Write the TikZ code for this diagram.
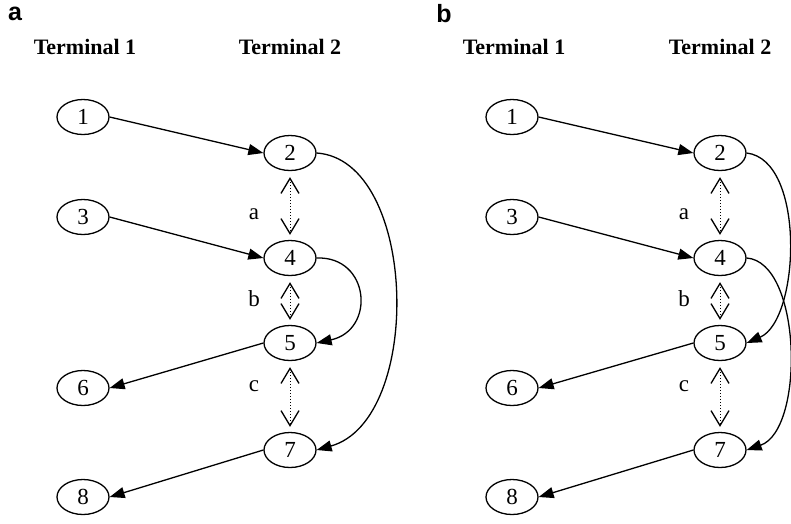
\documentclass[tikz,border=0pt]{standalone}
\usepackage{fontspec}
\setmainfont{Liberation Serif}
\setsansfont{Liberation Sans}
\usetikzlibrary{arrows.meta,shapes.geometric}
\tikzset{
  state/.style={draw, ellipse, line width=1.3pt, minimum width=52pt, minimum height=35pt,
    inner sep=0pt, font=\fontsize{23}{23}\selectfont},
  link/.style={line width=1.3pt, -{Triangle[length=15pt,width=11pt]}},
  swap/.style={line width=1pt, dotted, shorten <=6pt, shorten >=5pt,
    {Straight Barb[length=15pt,width=18pt,line width=1.3pt]}-{Straight Barb[length=15pt,width=18pt,line width=1.3pt]}},
  term/.style={font=\bfseries\fontsize{22}{22}\selectfont},
  panel/.style={font=\sffamily\bfseries\fontsize{25}{25}\selectfont},
  gap/.style={font=\fontsize{23}{23}\selectfont},
}
\begin{document}
\begin{tikzpicture}[x=1pt,y=-1pt]
\useasboundingbox (0,0) rectangle (791,523);
\fill[white] (0,0) rectangle (791,523);

% ---- panel a ----
\node[panel] (pa) at (15,14) {a};
\node[term] (ta1) at (85,47) {Terminal 1};
\node[term] (ta2) at (290,47) {Terminal 2};
\node[state] (a1) at (83,117) {1};
\node[state] (a2) at (290,153) {2};
\node[state] (a3) at (83,217) {3};
\node[state] (a4) at (290,258) {4};
\node[state] (a5) at (290,343) {5};
\node[state] (a6) at (83,388) {6};
\node[state] (a7) at (290,450) {7};
\node[state] (a8) at (83,497) {8};
\draw[link] (a1.east) -- (a2.west);
\draw[link] (a3.east) -- (a4.west);
\draw[link] (a5.west) -- (a6.east);
\draw[link] (a7.west) -- (a8.east);
\draw[link] (a2.east) .. controls (418,160) and (424,420) .. (a7.east);
\draw[link] (a4.east) .. controls (370,256) and (376,330) .. (a5.east);
\draw[swap] (a2.south) -- (a4.north);
\draw[swap] (a4.south) -- (a5.north);
\draw[swap] (a5.south) -- (a7.north);
\node[gap] (la) at (254,214) {a};
\node[gap] (lb) at (254,299) {b};
\node[gap] (lc) at (254,386) {c};

% ---- panel b ----
\node[panel] (pb) at (444,14) {b};
\node[term] (tb1) at (514,47) {Terminal 1};
\node[term] (tb2) at (720,47) {Terminal 2};
\node[state] (b1) at (512,117) {1};
\node[state] (b2) at (720,153) {2};
\node[state] (b3) at (512,217) {3};
\node[state] (b4) at (720,258) {4};
\node[state] (b5) at (720,343) {5};
\node[state] (b6) at (512,388) {6};
\node[state] (b7) at (720,450) {7};
\node[state] (b8) at (512,497) {8};
\draw[link] (b1.east) -- (b2.west);
\draw[link] (b3.east) -- (b4.west);
\draw[link] (b5.west) -- (b6.east);
\draw[link] (b7.west) -- (b8.east);
\draw[link] (b2.east) .. controls (806,160) and (800,320) .. (b5.east);
\draw[link] (b4.east) .. controls (802,262) and (805,430) .. (b7.east);
\draw[swap] (b2.south) -- (b4.north);
\draw[swap] (b4.south) -- (b5.north);
\draw[swap] (b5.south) -- (b7.north);
\node[gap] (lb1) at (684,214) {a};
\node[gap] (lb2) at (684,299) {b};
\node[gap] (lb3) at (684,386) {c};
\end{tikzpicture}
\end{document}
